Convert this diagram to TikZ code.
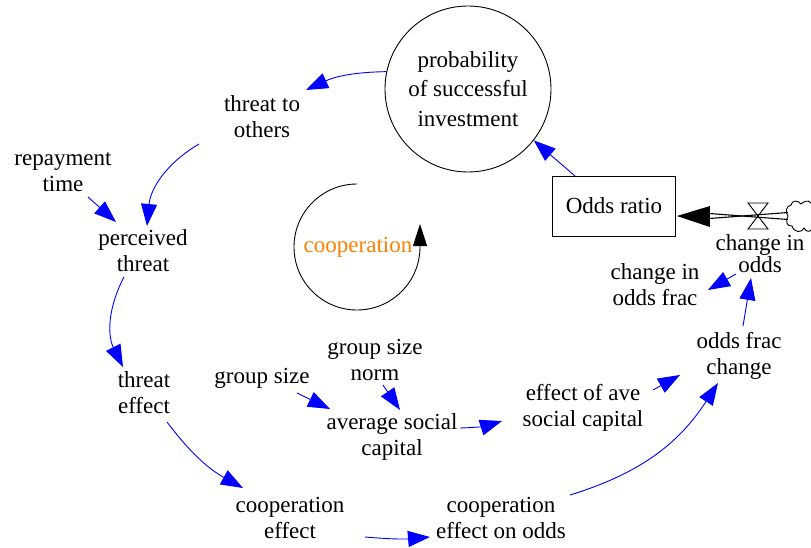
\documentclass[tikz,border=0pt]{standalone}
\usepackage{fontspec}
\setmainfont{Liberation Serif}
\usetikzlibrary{arrows.meta}
\definecolor{linkblue}{RGB}{0,0,255}
\definecolor{looporange}{RGB}{255,128,0}
\begin{document}
\begin{tikzpicture}[x=1pt,y=-1pt,
  lbl/.style={align=center,inner sep=1pt,font=\fontsize{23}{26}\selectfont},
  link/.style={draw=linkblue,line width=0.9pt,-{Triangle[length=22pt,width=16pt]},fill=none},
  stockbox/.style={draw,line width=0.9pt,minimum width=123pt,minimum height=60pt,inner sep=0pt,font=\fontsize{23}{26}\selectfont},
  auxcircle/.style={draw,circle,line width=0.9pt,minimum size=166pt,inner sep=0pt,align=center,font=\fontsize{23}{29.5}\selectfont}
]
\useasboundingbox (0,0) rectangle (811,548);

% nodes
\node[auxcircle] (prob) at (468,89) {probability\\of successful\\investment};
\node[lbl] (thr)  at (262,117) {threat to\\others};
\node[lbl] (rep)  at (63,172)  {repayment\\time};
\node[lbl] (per)  at (143,251) {perceived\\threat};
\node[lbl] (teff) at (144,393) {threat\\effect};
\node[lbl] (ceff) at (290,518) {cooperation\\effect};
\node[lbl] (ceo)  at (501,518) {cooperation\\effect on odds};
\node[lbl] (gs)   at (262,378) {group size};
\node[lbl] (gsn)  at (375,360) {group size\\norm};
\node[lbl] (asc)  at (392,437) {average social\\capital};
\node[lbl] (eav)  at (583,408) {effect of ave\\social capital};
\node[lbl] (ofc)  at (739,356) {odds frac\\change};
\node[lbl] (cof)  at (655,285) {change in\\odds frac};
\node[lbl,font=\fontsize{23}{22}\selectfont] (cio) at (760,254) {change in\\odds};
\node[stockbox] (odds) at (614,206) {Odds ratio};
\node[lbl,text=looporange] (loop) at (358,247) {cooperation};

% loop marker
\draw[line width=0.9pt,-{Triangle[length=22pt,width=14pt]}] (357,184) arc (-90:-360:63) -- ++(0,-23);

% cloud and flow
\coordinate (cloud) at (788,216);
\draw[line width=0.9pt] (811,203) .. controls (808,199) and (803,202) .. (801,204)
  .. controls (798,200) and (792,200) .. (791,205)
  .. controls (786,206) and (785,212) .. (788,216)
  .. controls (785,221) and (787,227) .. (792,226)
  .. controls (794,233) and (802,233) .. (804,228)
  .. controls (806,232) and (810,232) .. (811,230);
\draw[line width=1.1pt] ([yshift=-3.5pt]cloud) -- ([shift={(20,6.5)}]odds.east);
\draw[line width=1.1pt] ([yshift=3.5pt]cloud) -- ([shift={(20,13.5)}]odds.east);
\fill ([shift={(1,10)}]odds.east) -- ([shift={(34,0)}]odds.east) -- ([shift={(34,21)}]odds.east) -- cycle;
\draw[line width=0.9pt] (748,203) -- (768,203) -- (748,229) -- (768,229) -- cycle;

% links
\draw[link] (prob.168) to[bend right=12] ([shift={(44,-27)}]thr.center);
\draw[link] ([shift={(-63,27)}]thr.center) to[bend right=27] ([shift={(4,-25)}]per.center);
\draw[link] ([shift={(25,25)}]rep.center) -- ([shift={(-27,-29)}]per.center);
\draw[link] ([shift={(-19,26)}]per.center) to[bend right=27] ([shift={(-21,-26)}]teff.center);
\draw[link] ([shift={(23,29)}]teff.center) to[bend right=12] ([shift={(-47,-30)}]ceff.center);
\draw[link] ([shift={(75,19)}]ceff.center) to[bend right=5] ([shift={(-71,19)}]ceo.center);
\draw[link] ([shift={(69,-23)}]ceo.center) to[bend right=20] ([shift={(-21,27)}]ofc.center);
\draw[link] ([shift={(35,15)}]gs.center) -- ([shift={(-62,-28)}]asc.center);
\draw[link] ([shift={(8,25)}]gsn.center) -- ([shift={(8,-27)}]asc.center);
\draw[link] ([shift={(68,-9)}]asc.center) to[bend right=8] ([shift={(-81,13)}]eav.center);
\draw[link] ([shift={(70,-18)}]eav.center) -- ([shift={(-59,19)}]ofc.center);
\draw[link] ([shift={(4,-30)}]ofc.center) -- ([shift={(-9,24)}]cio.center);
\draw[link] ([shift={(-24,20)}]cio.center) -- ([shift={(53,5)}]cof.center);
\draw[link] ([shift={(-39,-30)}]odds.center) -- (prob.-38);
\end{tikzpicture}
\end{document}
